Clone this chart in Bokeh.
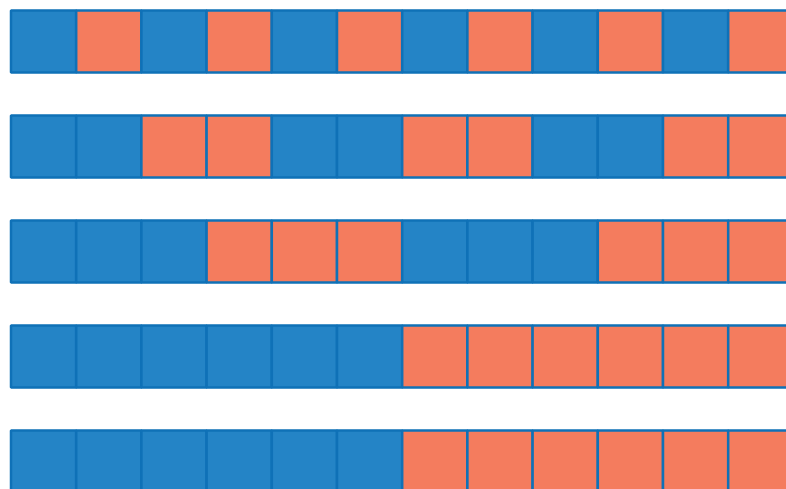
from bokeh.plotting import figure
from bokeh.models import Range1d, ColumnDataSource
from bokeh.embed import file_html
from bokeh.resources import INLINE

# pattern rows (0 = blue, 1 = orange), top to bottom
row1 = [0, 1, 0, 1, 0, 1, 0, 1, 0, 1, 0, 1]
row2 = [0, 0, 1, 1, 0, 0, 1, 1, 0, 0, 1, 1]
row3 = [0, 0, 0, 1, 1, 1, 0, 0, 0, 1, 1, 1]
row4 = [0, 0, 0, 0, 0, 0, 1, 1, 1, 1, 1, 1]
row5 = [0, 0, 0, 0, 0, 0, 1, 1, 1, 1, 1, 1]
rows = [row1, row2, row3, row4, row5]
palette = ["#2484c6", "#f47c5e"]

xs, ys, colors = [], [], []
for r, row in enumerate(rows):
    for c, v in enumerate(row):
        xs.append(c + 0.5)
        ys.append(r)
        colors.append(palette[v])

src = ColumnDataSource(dict(x=xs, y=ys, color=colors))

W, H = 786, 489
px_x = 65.2
px_y = 105.0
x0 = -10.5 / px_x
y0 = -41.0 / px_y
p = figure(width=W, height=H, output_backend="svg", toolbar_location=None,
           x_range=Range1d(x0, x0 + W / px_x),
           y_range=Range1d(y0 + H / px_y, y0),
           min_border=0)
p.axis.visible = False
p.grid.visible = False
p.outline_line_color = None
p.rect(x="x", y="y", width=1.0, height=62 / px_y, source=src,
       fill_color="color", line_color="#0f71b7", line_width=2.5)

open("out.html", "w").write(file_html(p, INLINE))
